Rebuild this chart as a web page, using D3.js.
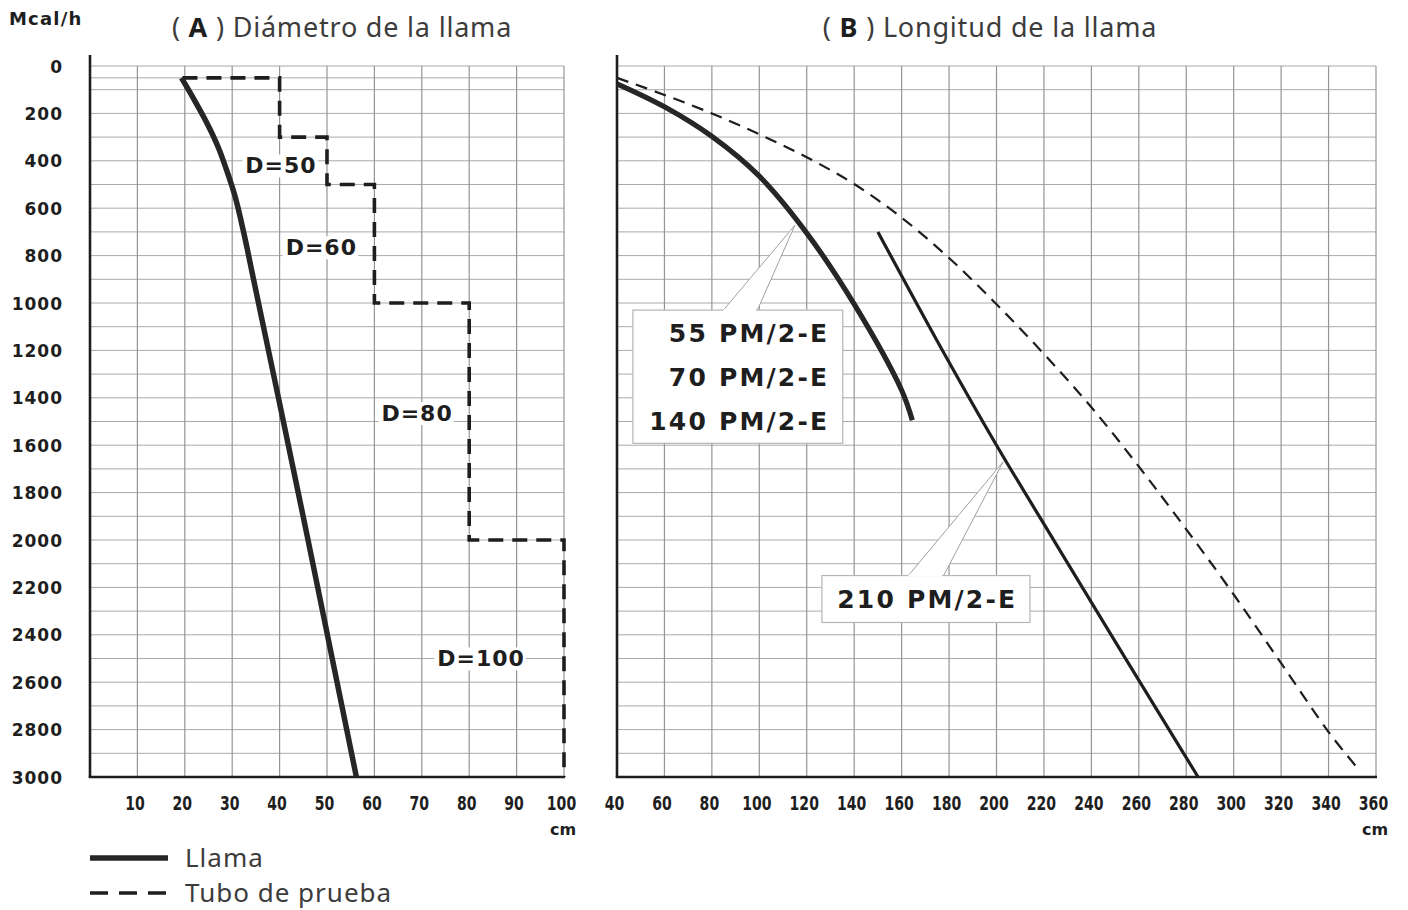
<!DOCTYPE html>
<html>
<head>
<meta charset="utf-8">
<script src="https://cdn.jsdelivr.net/npm/d3@7"></script>
<style>
  html, body { margin: 0; padding: 0; background: #fff; }
  svg { display: block; }
</style>
</head>
<body>
<svg id="chart" width="1408" height="910"></svg>
<script>
// ---------------- DATA ----------------
// Y axis: thermal power (Mcal/h)
const yTicks = [0,200,400,600,800,1000,1200,1400,1600,1800,2000,2200,2400,2600,2800,3000];
const yGridA = [0,50,100,200,300,400,500,600,700,800,900,1000,1100,1200,1300,1400,1500,1600,1700,1800,1900,2000,2100,2200,2300,2400,2500,2600,2700,2800,2900];
const yGridB = [0,100,200,300,400,500,600,700,800,900,1000,1100,1200,1300,1400,1500,1600,1700,1800,1900,2000,2100,2200,2300,2400,2500,2600,2700,2800,2900];

// Panel A: flame diameter (cm)
const xTicksA = [10,20,30,40,50,60,70,80,90,100];
// Llama (solid) : [cm, Mcal/h]
const llamaA = [[19.3,50],[22.2,150],[24.9,250],[27.2,350],[29.0,450],[30.6,550],[32.4,700],[34.5,900],[36.6,1100],[40.8,1500],[46.0,2000],[51.1,2500],[56.2,3000]];
// Tubo de prueba (dashed steps) : [cm, Mcal/h]
const tuboA = [[19.5,50],[40,50],[40,300],[50,300],[50,500],[60,500],[60,1000],[80,1000],[80,2000],[100,2000],[100,3000]];
const dLabels = ["D=50","D=60","D=80","D=100"];
const dLabelPos = [[40.3,420],[48.8,765],[69.0,1465],[82.5,2500]]; // [cm, Mcal/h] centres

// Panel B: flame length (cm)
const xTicksB = [40,60,80,100,120,140,160,180,200,220,240,260,280,300,320,340,360];
// 55/70/140 PM/2-E flame (thick solid)
const llamaB1 = [[40,75],[60,172],[80,297],[100,465],[120,705],[140,1005],[160,1368],[164.5,1495]];
// 210 PM/2-E flame (thin solid)
const llamaB2 = [[150,700],[175,1160],[200,1600],[225,2015],[255,2510],[285,3000]];
// Tubo de prueba (dashed)
const tuboB = [[40,50],[60,122],[80,200],[100,288],[120,385],[140,498],[160,640],[180,810],[200,1005],[220,1215],[240,1440],[260,1690],[280,1955],[300,2230],[320,2520],[340,2810],[352,2960]];
const callout1 = ["55 PM/2-E","70 PM/2-E","140 PM/2-E"];
const callout2 = ["210 PM/2-E"];

// ---------------- SCALES ----------------
const svg = d3.select("#chart");
const y = d3.scaleLinear().domain([0,3000]).range([66,777]);
const xA = d3.scaleLinear().domain([0,100]).range([90,564]);
const xB = d3.scaleLinear().domain([40,360]).range([617,1376]);

const INK = "#1e1e1e";

// ---------------- GRID ----------------
function grid(g, xs, xDomain, yVals, xVals) {
  g.selectAll("line.h").data(yVals).join("line")
    .attr("x1", xs(xDomain[0])).attr("x2", xs(xDomain[1]))
    .attr("y1", d => y(d)).attr("y2", d => y(d))
    .attr("stroke", "#a9a9a9").attr("stroke-width", 1);
  g.selectAll("line.v").data(xVals).join("line")
    .attr("x1", d => xs(d)).attr("x2", d => xs(d))
    .attr("y1", y(0)).attr("y2", y(3000))
    .attr("stroke", "#959595").attr("stroke-width", 1.2);
}
const gA = svg.append("g");
grid(gA, xA, [0,100], yGridA, xTicksA);
const gB = svg.append("g");
grid(gB, xB, [40,360], yGridB, xTicksB.filter(d => d > 40));

// ---------------- AXES ----------------
function frame(xs, x0, x1) {
  svg.append("line").attr("x1", xs(x0)).attr("x2", xs(x0)).attr("y1", 55).attr("y2", y(3000))
    .attr("stroke", INK).attr("stroke-width", 2.6);
  svg.append("line").attr("x1", xs(x0) - 1.3).attr("x2", xs(x1) + 1).attr("y1", y(3000)).attr("y2", y(3000))
    .attr("stroke", INK).attr("stroke-width", 2.6);
}
frame(xA, 0, 100);
frame(xB, 40, 360);

// y tick labels (via d3 axis)
const yAxis = d3.axisLeft(y).tickValues(yTicks).tickSize(0).tickPadding(0).tickFormat(d3.format("d"));
const gy = svg.append("g").attr("transform", "translate(63,0)").call(yAxis);
gy.select(".domain").remove();
gy.selectAll("text")
  .attr("font-family", "'DejaVu Sans', sans-serif").attr("font-weight", "bold")
  .attr("font-size", 17).attr("letter-spacing", "1px").attr("fill", INK).attr("dy", "0.36em");

function xAxisLabels(xs, ticks) {
  const ax = d3.axisBottom(xs).tickValues(ticks).tickSize(0).tickPadding(0).tickFormat(d3.format("d"));
  const g = svg.append("g").attr("transform", "translate(-3,795)").call(ax);
  g.select(".domain").remove();
  g.selectAll("text")
    .attr("font-family", "'DejaVu Sans', sans-serif")
    .attr("font-weight", "bold").attr("font-size", 18).attr("fill", INK).attr("dy", "0.72em")
    .attr("transform", "scale(0.78,1.12)");
}
xAxisLabels(xA, xTicksA);
xAxisLabels(xB, xTicksB);

function unitText(x, yy, t, anchor, size, ls) {
  svg.append("text").attr("x", x).attr("y", yy).text(t)
    .attr("font-family", "'DejaVu Sans', sans-serif").attr("font-weight", "bold")
    .attr("font-size", size || 16).attr("letter-spacing", ls || "0px")
    .attr("fill", INK).attr("text-anchor", anchor || "middle");
}
unitText(9, 25, "Mcal/h", "start", 18, "1.2px");
unitText(xA(100) - 1, 835, "cm");
unitText(xB(360) - 1, 835, "cm");

// titles
function title(cx, letter, rest) {
  const t = svg.append("text").attr("x", cx).attr("y", 37).attr("text-anchor", "middle")
    .attr("font-family", "'Noto Sans', sans-serif").attr("font-size", 27).attr("letter-spacing", "0.8px")
    .attr("fill", "#3c3c3c");
  t.append("tspan").text("( ");
  t.append("tspan").text(letter).attr("font-weight", "bold").attr("fill", "#1e1e1e");
  t.append("tspan").text(" ) " + rest);
}
title(342, "A", "Diámetro de la llama");
title(990, "B", "Longitud de la llama");

// ---------------- SERIES ----------------
const smooth = d3.curveCatmullRom.alpha(0.5);

// Panel A dashed steps
svg.append("path").datum(tuboA).attr("d", d3.line().x(d => xA(d[0])).y(d => y(d[1])))
  .attr("fill", "none").attr("stroke", INK).attr("stroke-width", 3.6)
  .attr("stroke-dasharray", "15,9");

// D labels with white backgrounds
dLabels.forEach((lab, i) => {
  const g = svg.append("g");
  const t = g.append("text").attr("x", xA(dLabelPos[i][0])).attr("y", y(dLabelPos[i][1]))
    .attr("text-anchor", "middle").attr("dy", "0.36em")
    .attr("font-family", "'DejaVu Sans', sans-serif").attr("font-weight", "bold")
    .attr("font-size", 22).attr("letter-spacing", "1px").attr("fill", INK).text(lab);
  const bb = t.node().getBBox();
  g.insert("rect", "text").attr("x", bb.x - 3).attr("y", bb.y + 1).attr("width", bb.width + 4)
    .attr("height", bb.height - 2).attr("fill", "#fff");
});

// Panel A flame
svg.append("path").datum(llamaA).attr("d", d3.line().x(d => xA(d[0])).y(d => y(d[1])).curve(smooth))
  .attr("fill", "none").attr("stroke", "#262626").attr("stroke-width", 5.5);

// Panel B dashed
svg.append("path").datum(tuboB).attr("d", d3.line().x(d => xB(d[0])).y(d => y(d[1])).curve(smooth))
  .attr("fill", "none").attr("stroke", INK).attr("stroke-width", 2.2)
  .attr("stroke-dasharray", "12,8");

// Callouts (panel B)
function callout(lines, box, tip, base, anchorX, lineYs, align) {
  const g = svg.append("g");
  g.append("path")
    .attr("d", `M${xB(base[0])},${y(box[1])+1} L${xB(tip[0])},${y(tip[1])} L${xB(base[1])},${y(box[1])+1} Z`)
    .attr("fill", "#fff").attr("stroke", "#a0a0a0").attr("stroke-width", 1);
  g.append("rect").attr("x", xB(box[0])).attr("y", y(box[1]))
    .attr("width", xB(box[2]) - xB(box[0])).attr("height", y(box[3]) - y(box[1]))
    .attr("fill", "#fff").attr("stroke", "#b5b5b5").attr("stroke-width", 1.2);
  g.append("line").attr("x1", xB(base[0]) + 1).attr("x2", xB(base[1]) - 1)
    .attr("y1", y(box[1])).attr("y2", y(box[1])).attr("stroke", "#fff").attr("stroke-width", 2);
  lines.forEach((s, i) => {
    g.append("text").attr("x", xB(anchorX)).attr("y", y(lineYs[i])).attr("dy", "0.36em")
      .attr("text-anchor", align)
      .attr("font-family", "'DejaVu Sans', sans-serif").attr("font-weight", "bold")
      .attr("font-size", 25).attr("letter-spacing", "2.2px").attr("fill", INK).text(s);
  });
}
callout(callout1, [46.7,1030,135.2,1592], [115,672], [84.5,99], 129.5, [1128,1313,1496], "end");
callout(callout2, [126.4,2150,214.1,2348], [202.8,1670], [162.5,177.5], 170.8, [2250], "middle");

// Panel B flames
svg.append("path").datum(llamaB1).attr("d", d3.line().x(d => xB(d[0])).y(d => y(d[1])).curve(smooth))
  .attr("fill", "none").attr("stroke", "#262626").attr("stroke-width", 5.2);
svg.append("path").datum(llamaB2).attr("d", d3.line().x(d => xB(d[0])).y(d => y(d[1])).curve(smooth))
  .attr("fill", "none").attr("stroke", INK).attr("stroke-width", 3.2);

// ---------------- LEGEND ----------------
const leg = svg.append("g");
leg.append("line").attr("x1", 90).attr("x2", 168).attr("y1", 858).attr("y2", 858)
  .attr("stroke", "#262626").attr("stroke-width", 5.5);
leg.append("line").attr("x1", 90).attr("x2", 168).attr("y1", 893).attr("y2", 893)
  .attr("stroke", INK).attr("stroke-width", 3.6).attr("stroke-dasharray", "18,11");
[["Llama",858],["Tubo de prueba",893]].forEach(([t, yy]) => {
  leg.append("text").attr("x", 185).attr("y", yy).attr("dy", "0.36em")
    .attr("font-family", "'Noto Sans', sans-serif").attr("font-size", 26).attr("letter-spacing", "1px")
    .attr("fill", "#3c3c3c").text(t);
});
</script>
</body>
</html>
